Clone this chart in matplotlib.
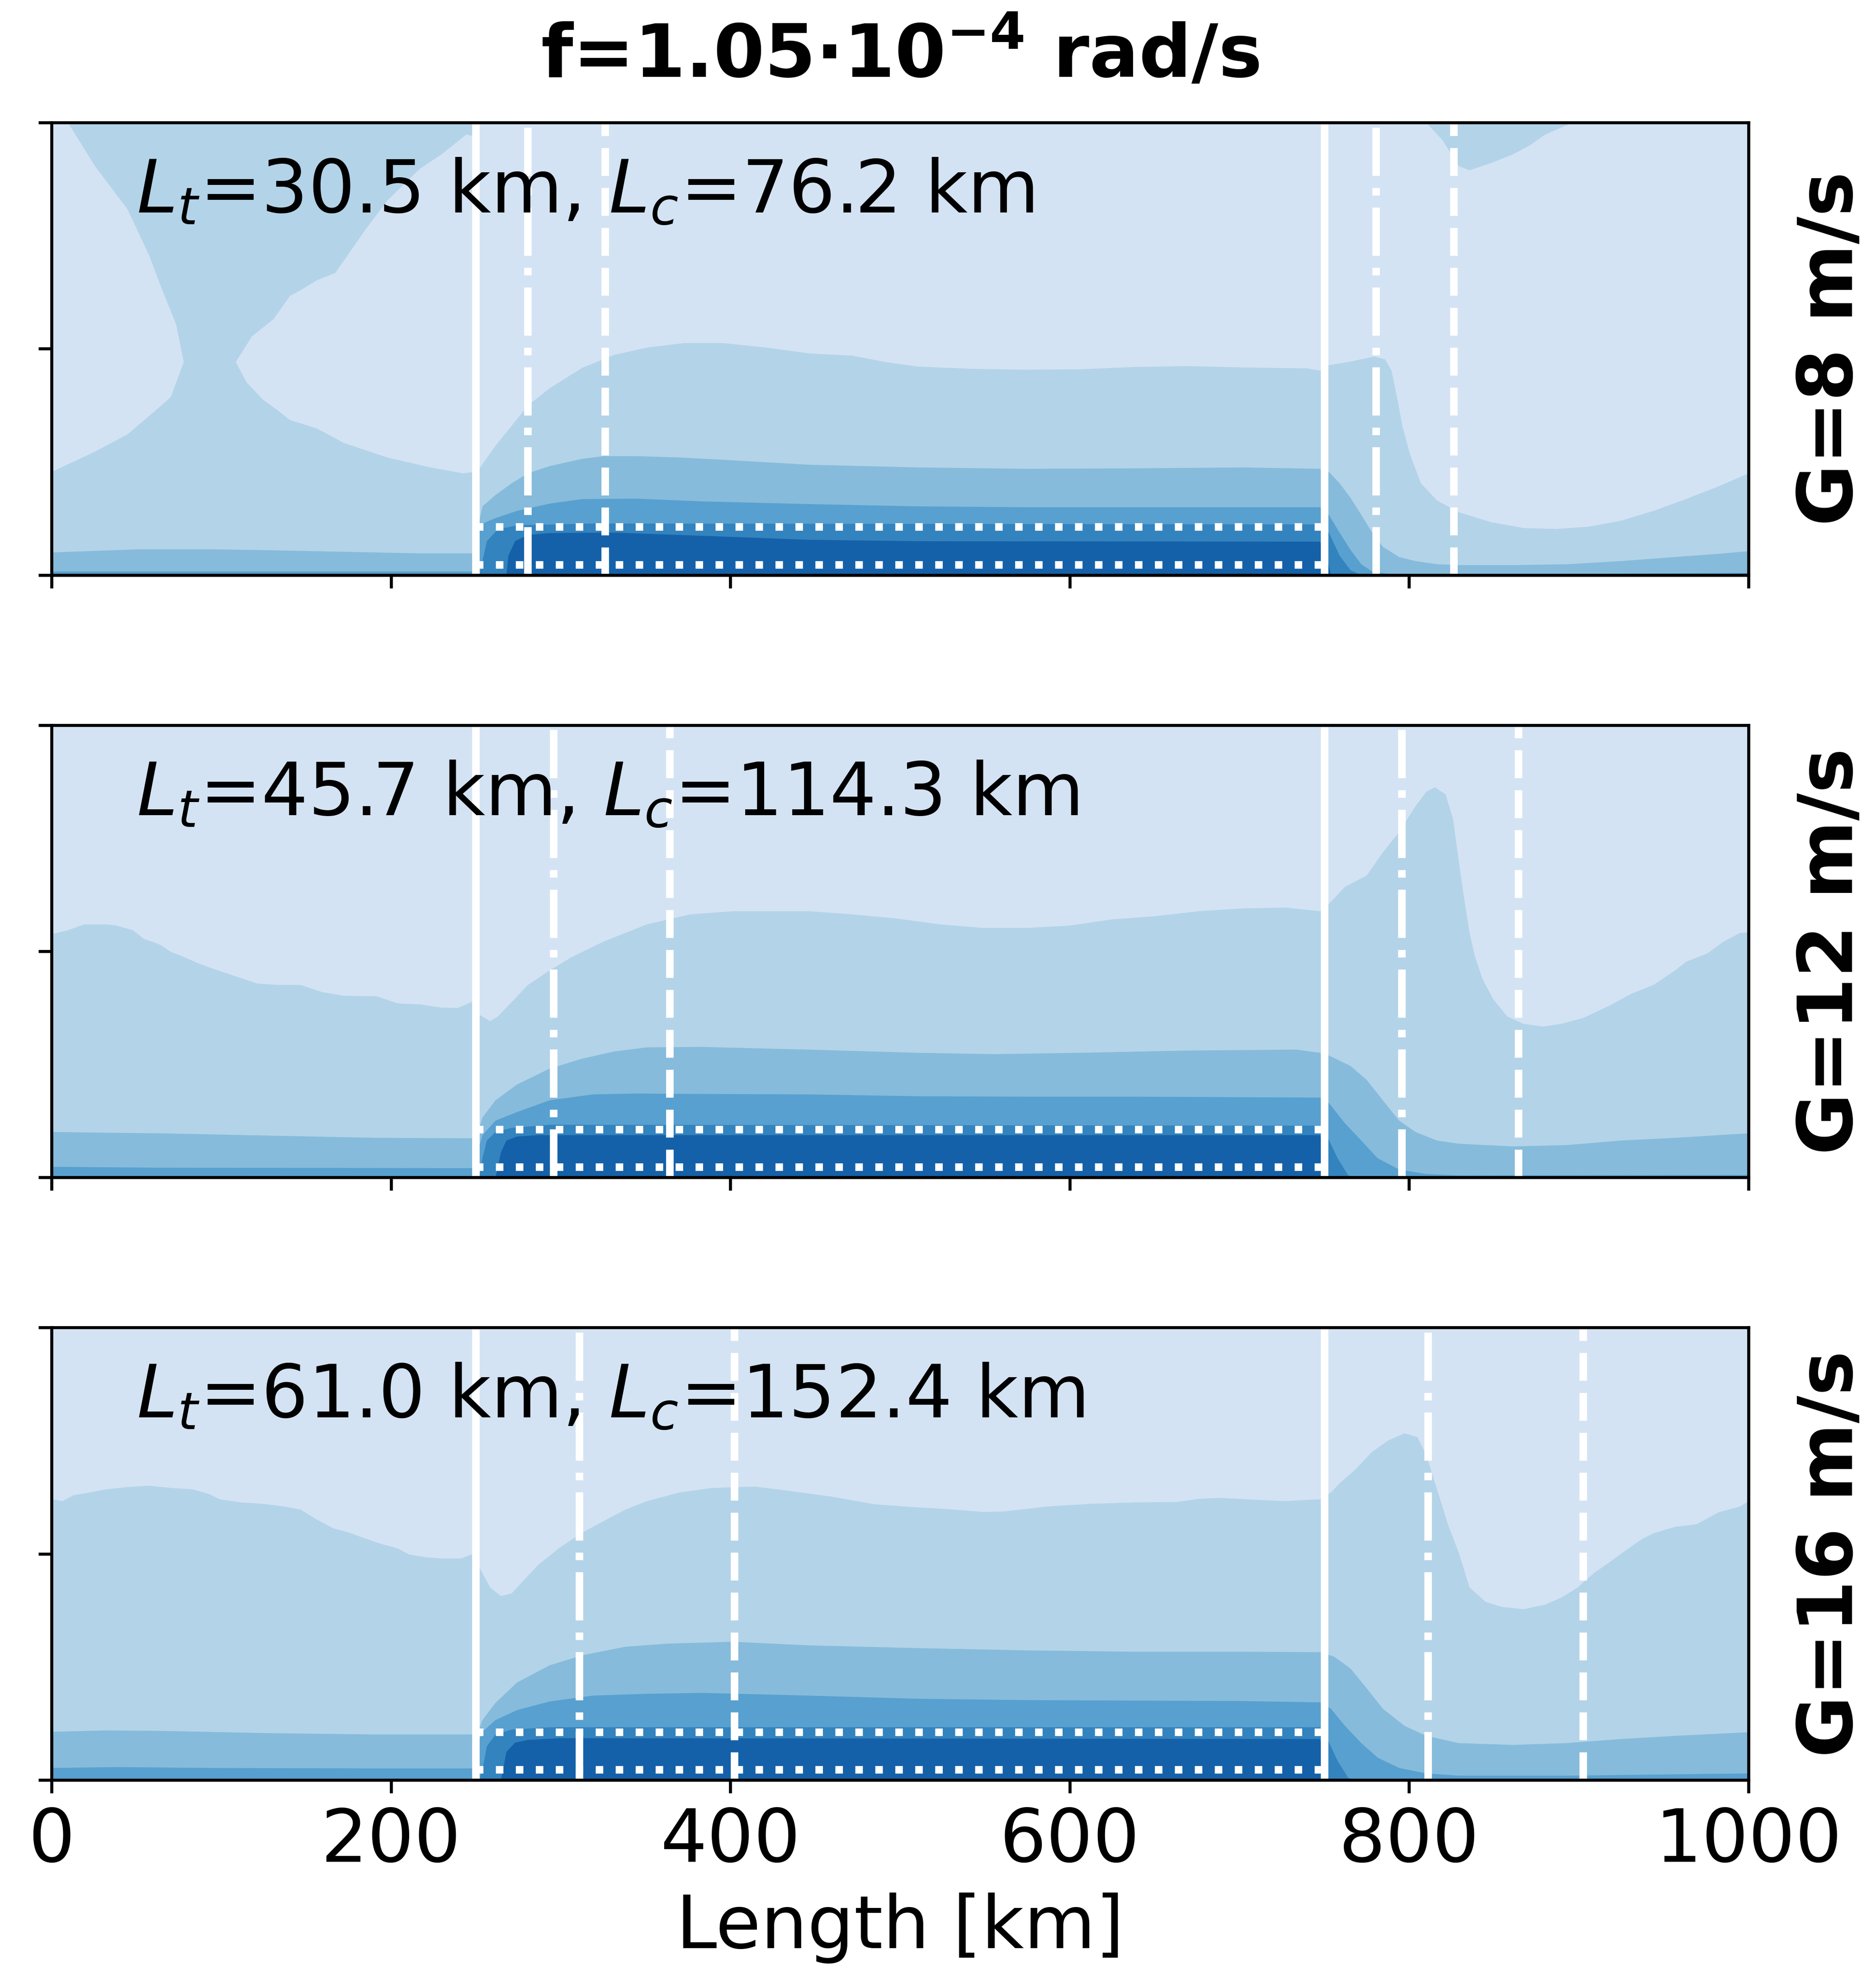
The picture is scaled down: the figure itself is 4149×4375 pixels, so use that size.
import numpy as np
import matplotlib.pyplot as plt

# f = 1.05e-4 rad/s, three geostrophic winds
winds = [8, 12, 16]
lt = [30.5, 45.7, 61.0]     # km
lc = [76.2, 114.3, 152.4]   # km
patch = (250, 750)          # km
box_z = [0.023, 0.106]      # height of dotted box (fraction of domain)

blues = ['#d3e3f3', '#b3d3e8', '#86bbdb', '#58a0cf', '#3383be', '#1561a9']

# contour edges: (x [km], z [frac]) ; edge k = top of colour k
# ---- G = 8 m/s
g8_e1 = [(0, .228), (25.5, .273), (44.6, .311), (60.6, .362), (70.2, .394), (77.8, .471),
         (108.4, .471), (114.8, .426), (124.4, .388), (133.9, .362), (140.3, .343), (156.3, .324),
         (172.2, .292), (197.7, .260), (223.2, .238), (242.3, .225), (248.7, .228),
         (251.9, .235), (261.5, .286), (271, .330), (280.6, .375), (293.4, .413), (312.5, .458),
         (331.6, .487), (350.8, .503), (373.1, .513), (395.4, .513), (420.9, .503), (446.4, .490),
         (471.9, .485), (491.1, .471), (510.2, .461), (542.1, .456), (574, .454), (605.9, .455),
         (637.8, .460), (669.6, .462), (701.5, .459), (739.8, .457), (747.4, .452),
         (752.6, .464), (765.3, .472), (779.3, .483), (785.7, .477), (789.5, .452), (792.7, .394),
         (795.9, .330), (800.4, .267), (806.8, .203), (816.3, .165), (829.1, .139), (848.2, .117),
         (867.3, .104), (886.5, .102), (905.6, .107), (924.7, .120), (943.9, .142), (963, .168),
         (982.1, .196), (1000, .225)]
g8_e2 = [(0, .050), (51, .057), (95.7, .057), (127.6, .055), (191.3, .050), (220, .048),
         (248.7, .048), (252, .12), (253.8, .152), (261.5, .177), (271, .203), (280.6, .225),
         (293.4, .241), (312.5, .257), (325.3, .263), (344.4, .263), (369.9, .260), (395.4, .255),
         (446.4, .244), (510.2, .238), (574, .235), (637.8, .236), (701.5, .238), (747.4, .235),
         (752.6, .228), (758.9, .203), (765.3, .171), (771.7, .133), (778.1, .094), (784.4, .0625),
         (794, .040), (803.6, .031), (816.3, .024), (829.1, .022), (861, .022), (892.9, .024),
         (924.7, .031), (956.6, .040), (982.1, .047), (1000, .053)]
g8_e3 = [(0, .008), (248.7, .008), (252, .10), (253.8, .114), (261.5, .126), (274.2, .142),
         (293.4, .158), (312.5, .168), (344.4, .169), (382.7, .163), (446.4, .157), (510.2, .152),
         (574, .150), (747.4, .150), (752.6, .133), (758.9, .094), (765.3, .056), (771.7, .024),
         (778.1, .008), (790.8, .001), (829, .001), (1000, .005)]
g8_e4 = [(252, 0), (253.8, .031), (256.4, .075), (262.8, .101), (274.2, .110), (318.9, .114),
         (747.4, .112), (752.6, .094), (758.9, .043), (765.3, .011), (771.7, 0)]
g8_e5 = [(267.9, 0), (269.1, .043), (273, .075), (280.6, .089), (293.4, .093), (331.6, .094),
         (382.7, .087), (446.4, .078), (510.2, .075), (747.4, .074), (751.3, .043), (753.8, 0)]
# regions of colour 1 hanging from the model top
g8_top_a = [(9.6, 1), (25.5, .904), (44.6, .809), (57.4, .707), (63.8, .643), (73.3, .554),
            (77.8, .471), (108.4, .471), (118, .528), (130.7, .566), (140.3, .617), (146.7, .630),
            (156.3, .652), (167.1, .668), (175.4, .713), (184.9, .764), (197.7, .828), (216.8, .898),
            (229.6, .930), (244.3, .974), (248.1, .971), (249.5, 1)]
g8_top_b = [(810, 1), (819.5, .962), (829.1, .904), (835.5, .895), (848.2, .911), (861, .930),
            (870.5, .949), (880.1, .974), (896, 1)]

# ---- G = 12 m/s
g12_e1 = [(0, .538), (9.6, .547), (19.1, .560), (31.9, .560), (38.3, .557), (47.8, .547),
          (54.2, .528), (63.8, .515), (70.2, .499), (76.5, .490), (86.1, .474), (95.7, .461),
          (108.4, .445), (121.2, .429), (133.9, .426), (146.7, .426), (159.4, .410), (172.2, .402),
          (191.3, .401), (204.1, .385), (216.8, .383), (229.6, .376), (239.2, .375), (247.4, .388),
          (249, .40), (252, .36), (253.8, .356), (258.3, .346), (262.8, .356), (271, .388),
          (280.6, .426), (293.4, .458), (306.1, .487), (325.3, .522), (350.8, .560), (376.3, .582),
          (401.8, .589), (446.4, .589), (471.9, .582), (497.4, .573), (523, .560), (548.5, .552),
          (574, .552), (599.5, .557), (625, .571), (650.5, .578), (676, .589), (701.5, .595),
          (727, .597), (747.4, .589), (752.6, .605), (762.1, .643), (774.9, .668), (784.4, .719),
          (794, .764), (803.6, .821), (810, .853), (815.1, .863), (821.4, .847), (825.9, .790),
          (829.1, .700), (832.3, .617), (835.5, .541), (838.6, .490), (843.1, .439), (849.5, .394),
          (857.8, .356), (867.3, .340), (878.8, .334), (889.7, .340), (902.4, .353), (918.4, .381),
          (931.1, .407), (943.9, .426), (956.6, .458), (963, .477), (975.8, .496), (985.3, .522),
          (994.9, .541), (1000, .542)]
g12_e2 = [(0, .101), (38.3, .099), (63.8, .098), (127.6, .093), (191.3, .088), (248.7, .087),
          (252, .11), (253.8, .133), (261.5, .171), (274.2, .206), (293.4, .241), (312.5, .263),
          (331.6, .279), (350.8, .288), (382.7, .289), (446.4, .283), (510.2, .276), (554.8, .273),
          (605.9, .276), (669.6, .281), (733.4, .283), (747.4, .276), (752.6, .270), (765.3, .247),
          (774.9, .216), (784.4, .171), (794, .126), (803.6, .101), (816.3, .082), (829.1, .075),
          (861, .069), (892.9, .072), (924.7, .082), (956.6, .088), (982.1, .094), (1000, .098)]
g12_e3 = [(0, .024), (63.8, .022), (248.7, .021), (252, .07), (253.8, .094), (261.5, .126),
          (274.2, .145), (293.4, .171), (318.9, .184), (344.4, .186), (382.7, .185), (446.4, .184),
          (510.2, .180), (574, .179), (637.8, .179), (747.4, .177), (752.6, .165), (762.1, .120),
          (771.7, .082), (781.3, .043), (794, .018), (810, .008), (829.1, .005), (1000, .006)]
g12_e4 = [(252, 0), (253.8, .043), (256.4, .082), (261.5, .101), (271, .110), (293.4, .117),
          (747.4, .115), (751.3, .094), (757.7, .043), (764, .005), (768.5, 0)]
g12_e5 = [(261.5, 0), (264.7, .056), (267.9, .082), (274.2, .091), (287, .094), (747.4, .094),
          (750, .056), (752.6, 0)]

# ---- G = 16 m/s
g16_e1 = [(0, .621), (6.4, .617), (12.8, .630), (22.3, .636), (31.9, .643), (44.6, .648),
          (57.4, .651), (70.2, .646), (82.9, .643), (92.5, .633), (98.9, .621), (111.6, .614),
          (124.4, .611), (137.1, .605), (146.7, .598), (156.3, .576), (165.8, .557), (175.4, .547),
          (184.9, .534), (194.5, .522), (204.1, .512), (210.5, .499), (220, .493), (229.6, .490),
          (241.1, .490), (247.4, .499), (252, .47), (253.8, .458), (258.3, .426), (264.7, .407),
          (271, .413), (277.4, .439), (287, .477), (299.7, .515), (312.5, .547), (325.3, .573),
          (338, .598), (350.8, .617), (369.9, .636), (389, .646), (414.5, .649), (433.7, .640),
          (459.2, .627), (484.7, .610), (510.2, .603), (529.3, .599), (548.5, .593), (561.2, .594),
          (586.7, .605), (612.2, .611), (637.8, .614), (663.3, .615), (676, .622), (688.8, .624),
          (714.3, .619), (727, .617), (747.4, .621), (753.8, .636), (758.9, .656), (768.5, .688),
          (778.1, .726), (787.6, .751), (797.2, .767), (804.8, .758), (810, .719), (816.3, .643),
          (822.7, .566), (829.1, .503), (835.5, .426), (845, .394), (854.6, .383), (867.3, .378),
          (880.1, .388), (889.7, .404), (899.2, .426), (908.8, .458), (918.4, .483), (927.9, .509),
          (937.5, .534), (943.9, .546), (956.6, .560), (969.4, .566), (982.1, .592), (994.9, .605),
          (1000, .617)]
g16_e2 = [(0, .107), (31.9, .110), (63.8, .109), (127.6, .104), (191.3, .101), (248.7, .101),
          (252, .115), (253.8, .133), (261.5, .171), (274.2, .216), (293.4, .254), (312.5, .276),
          (338, .295), (363.5, .302), (401.8, .306), (446.4, .298), (510.2, .292), (574, .287),
          (637.8, .284), (701.5, .284), (747.4, .283), (755.7, .273), (765.3, .247), (774.9, .203),
          (784.4, .158), (797.2, .120), (810, .098), (829.1, .082), (861, .078), (892.9, .082),
          (924.7, .091), (956.6, .098), (1000, .106)]
g16_e3 = [(0, .027), (38.3, .029), (95.7, .027), (191.3, .026), (248.7, .026), (252, .09),
          (253.8, .107), (261.5, .133), (274.2, .155), (293.4, .174), (318.9, .187), (350.8, .191),
          (382.7, .193), (446.4, .187), (510.2, .180), (574, .177), (637.8, .176), (701.5, .175),
          (747.4, .172), (753.8, .158), (762.1, .120), (771.7, .082), (781.3, .050), (794, .027),
          (810, .015), (829.1, .010), (892.9, .010), (1000, .015)]
g16_e4 = [(252, 0), (253.8, .024), (256.4, .075), (261.5, .101), (271, .112), (293.4, .117),
          (747.4, .117), (751.3, .094), (757.7, .043), (764, .005), (768.5, 0)]
g16_e5 = [(264.7, 0), (267.9, .0625), (273, .083), (280.6, .089), (299.7, .093), (747.4, .091),
          (750, .056), (752.6, 0)]

edges = [[g8_e1, g8_e2, g8_e3, g8_e4, g8_e5],
         [g12_e1, g12_e2, g12_e3, g12_e4, g12_e5],
         [g16_e1, g16_e2, g16_e3, g16_e4, g16_e5]]
tops = [[g8_top_a, g8_top_b], [], []]

fs = 19.5

fig, axs = plt.subplots(3, 1, figsize=(4149/600, 4375/600), dpi=600, sharex=True)
fig.subplots_adjust(left=114/4149, right=3867/4149, top=1-271/4375, bottom=1-3937/4375,
                    hspace=0.332)

for i, ax in enumerate(axs):
    ax.set_facecolor(blues[0])
    for k, e in enumerate(edges[i]):
        xs, zs = np.array(e).T
        ax.fill_between(xs, 0, zs, color=blues[k+1], lw=0)
    for t in tops[i]:
        xs, zs = np.array(t).T
        ax.fill_between(xs, zs, 1, color=blues[1], lw=0)

    x0, x1 = patch
    ax.axvline(x0, color='w', lw=2)
    ax.axvline(x1, color='w', lw=2)
    ax.axvline(x0+lt[i], color='w', lw=2, ls='-.')
    ax.axvline(x1+lt[i], color='w', lw=2, ls='-.')
    ax.axvline(x0+lc[i], color='w', lw=2, ls='--')
    ax.axvline(x1+lc[i], color='w', lw=2, ls='--')
    ax.hlines(box_z, x0, x1, colors='w', linestyles=':', lw=2)

    ax.text(0.05, 0.80, r'$L_t$=%.1f km, $L_c$=%.1f km' % (lt[i], lc[i]),
            transform=ax.transAxes, fontsize=fs, va='baseline')
    ax.text(1.049, 0.5, 'G=%d m/s' % winds[i], rotation=90, ha='center', va='center',
            fontsize=20, fontweight='bold', transform=ax.transAxes)

    ax.set_xlim(0, 1000)
    ax.set_ylim(0, 1)
    ax.set_yticks([0, 0.5, 1])
    ax.set_yticklabels([])
    ax.set_xticks([0, 200, 400, 600, 800, 1000])
    ax.tick_params(labelsize=fs)

axs[0].set_title('f=1.05·10$^{\\mathbf{-4}}$ rad/s', fontsize=fs, fontweight='bold', pad=12)
axs[2].set_xlabel('Length [km]', fontsize=fs)

fig.savefig('out.png', dpi=600)
